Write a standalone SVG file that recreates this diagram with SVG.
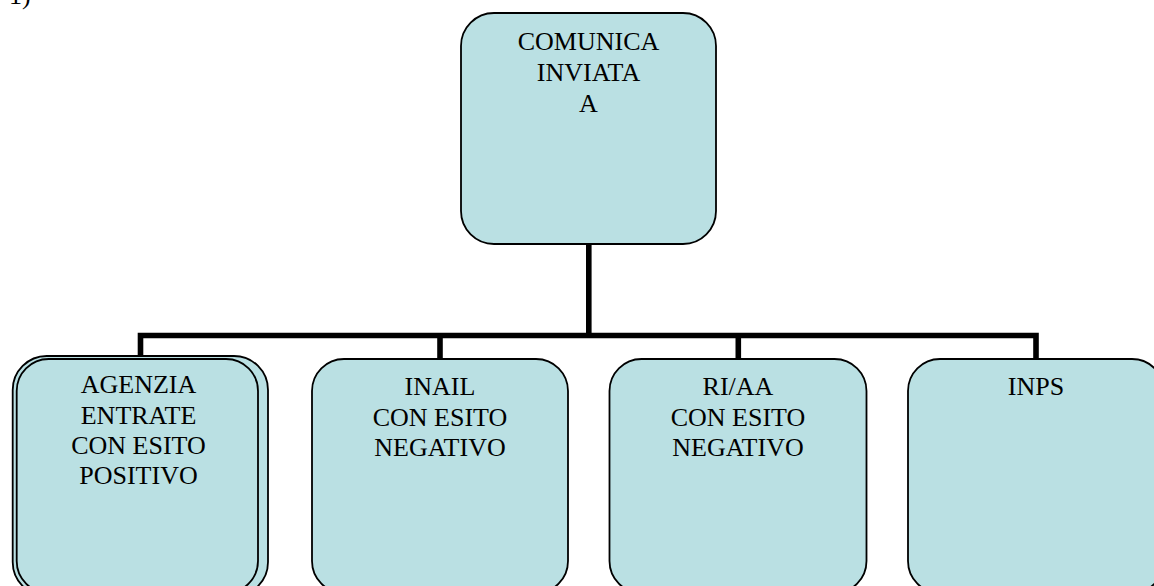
<svg xmlns="http://www.w3.org/2000/svg" width="1154" height="586" viewBox="0 0 1154 586">
<style>
.box{fill:#bae0e3;stroke:#000;stroke-width:1.8}
.t{font-family:"Liberation Serif","Times New Roman",serif;font-size:26px;fill:#000;text-anchor:middle}
.conn{fill:none;stroke:#000;stroke-width:5.6;stroke-linejoin:miter;stroke-linecap:butt}
</style>
<rect width="1154" height="586" fill="#fff"/>
<text x="9" y="3.5" class="t" style="text-anchor:start">1)</text>
<g id="connectors">
<path class="conn" d="M588.8 244 V335.5"/>
<path class="conn" d="M140.5 356 V335.5 H1036 V359"/>
<path class="conn" d="M440 335.5 V359"/>
<path class="conn" d="M738.3 335.5 V359"/>
</g>
<g id="node-comunica">
<rect class="box" x="461" y="13" width="255" height="231" rx="33" ry="33"/>
<text class="t" x="588.5" y="50">COMUNICA</text>
<text class="t" x="588.5" y="80.8">INVIATA</text>
<text class="t" x="588.5" y="111.5">A</text>
</g>
<g id="node-agenzia">
<rect class="box" x="12.7" y="356" width="255.3" height="240" rx="34" ry="34"/>
<rect class="box" x="16.7" y="359" width="241.3" height="234" rx="32" ry="32"/>
<text class="t" x="138.5" y="393">AGENZIA</text>
<text class="t" x="138.5" y="423.5">ENTRATE</text>
<text class="t" x="138.5" y="454">CON ESITO</text>
<text class="t" x="138.5" y="484">POSITIVO</text>
</g>
<g id="node-inail">
<rect class="box" x="312" y="359" width="256" height="234" rx="32" ry="32"/>
<text class="t" x="440" y="395">INAIL</text>
<text class="t" x="440" y="425.5">CON ESITO</text>
<text class="t" x="440" y="456">NEGATIVO</text>
</g>
<g id="node-riaa">
<rect class="box" x="609.5" y="359" width="257" height="234" rx="32" ry="32"/>
<text class="t" x="738" y="395">RI/AA</text>
<text class="t" x="738" y="425.5">CON ESITO</text>
<text class="t" x="738" y="456">NEGATIVO</text>
</g>
<g id="node-inps">
<rect class="box" x="908" y="359" width="256" height="234" rx="32" ry="32"/>
<text class="t" x="1036" y="395">INPS</text>
</g>
</svg>
